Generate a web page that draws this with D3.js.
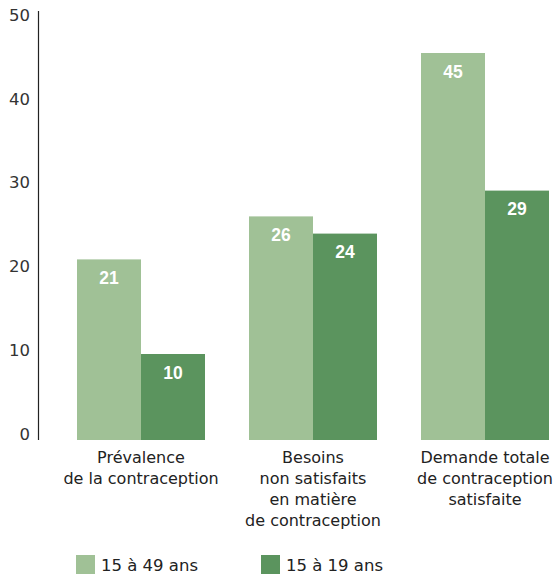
<!DOCTYPE html>
<html>
<head>
<meta charset="utf-8">
<script src="https://cdn.jsdelivr.net/npm/d3@7"></script>
<style>
  html, body { margin: 0; padding: 0; background: #fff; }
  svg { display: block; }
</style>
</head>
<body>
<div id="chart"></div>
<script>
const categories = [
  ["Prévalence", "de la contraception"],
  ["Besoins", "non satisfaits", "en matière", "de contraception"],
  ["Demande totale", "de contraception", "satisfaite"]
];
const seriesNames = ["15 à 49 ans", "15 à 19 ans"];
const values1549 = [21, 26, 45];
const values1519 = [10, 24, 29];
const yTicks = [0, 10, 20, 30, 40, 50];
const colors = ["#a0c196", "#5b945e"];

const W = 555, H = 575;
const svg = d3.select("#chart").append("svg").attr("width", W).attr("height", H);

const y = d3.scaleLinear().domain([0, 50]).range([440, 10]);
const yLabel = d3.scaleLinear().domain([0, 50]).range([434, 15]);
const x0 = d3.scaleBand().domain(d3.range(categories.length)).range([77, 549]).paddingInner(44 / 172).paddingOuter(0);
const x1 = d3.scaleBand().domain([0, 1]).range([0, x0.bandwidth()]);

// axis line
svg.append("line").attr("x1", 38.5).attr("x2", 38.5).attr("y1", y(50) + 1).attr("y2", y(0))
  .attr("stroke", "#222").attr("stroke-width", 1.2);

svg.append("g").selectAll("text").data(yTicks).join("text")
  .attr("x", 30).attr("y", d => yLabel(d)).attr("dy", "0.35em")
  .attr("text-anchor", "end")
  .style("font-family", "'DejaVu Sans', sans-serif").style("font-size", "16.5px").style("fill", "#333")
  .text(d => d);

const series = [values1549, values1519];
const groups = svg.append("g").selectAll("g").data(categories).join("g")
  .attr("transform", (d, i) => `translate(${x0(i)},0)`);

groups.each(function(cat, i) {
  const g = d3.select(this);
  series.forEach((s, j) => {
    g.append("rect").attr("x", x1(j)).attr("y", y(s[i]))
      .attr("width", x1.bandwidth()).attr("height", y(0) - y(s[i]))
      .attr("fill", colors[j]);
    g.append("text").attr("x", x1(j) + x1.bandwidth() / 2).attr("y", y(s[i]) + 24.5)
      .attr("text-anchor", "middle")
      .style("font-family", "'Liberation Sans', Arial, sans-serif").style("font-weight", "bold")
      .style("font-size", "17.5px").style("fill", "#fff")
      .text(s[i]);
  });
  const t = g.append("text").attr("text-anchor", "middle")
    .style("font-family", "'DejaVu Sans', sans-serif").style("font-size", "16px").style("fill", "#222");
  cat.forEach((line, k) => {
    t.append("tspan").attr("x", x0.bandwidth() / 2).attr("y", 463 + k * 21).text(line);
  });
});

// legend
const legendX = [76, 261];
const legend = svg.append("g").selectAll("g").data(seriesNames).join("g")
  .attr("transform", (d, i) => `translate(${legendX[i]},555)`);
legend.append("rect").attr("width", 19).attr("height", 19).attr("fill", (d, i) => colors[i]);
legend.append("text").attr("x", 25).attr("y", 16)
  .style("font-family", "'DejaVu Sans', sans-serif").style("font-size", "16.5px").style("fill", "#222")
  .text(d => d);
</script>
</body>
</html>
